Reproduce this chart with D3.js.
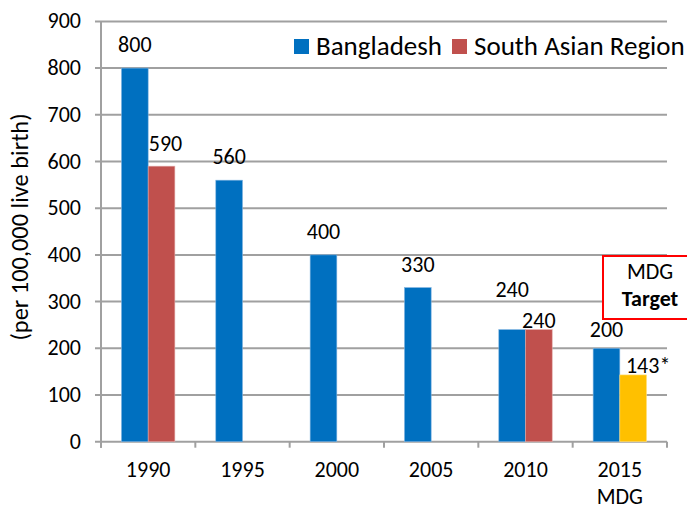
<!DOCTYPE html>
<html>
<head>
<meta charset="utf-8">
<script src="https://cdn.jsdelivr.net/npm/d3@7/dist/d3.min.js"></script>
<style>
  body { margin: 0; background: #fff; }
  text { font-family: Carlito, Calibri, Lato, sans-serif; fill: #000; }
</style>
</head>
<body>
<div id="cont"></div>
<script>
// data
var years = ["1990", "1995", "2000", "2005", "2010", "2015"];
var yearSub = ["", "", "", "", "", "MDG"];
var bangladesh = [800, 560, 400, 330, 240, 200];
var southAsia = [590, null, null, null, 240, null];
var mdgTarget = [null, null, null, null, null, 143];
var yTicks = [0, 100, 200, 300, 400, 500, 600, 700, 800, 900];

// label nudges (px above bar top, dx)
var blueLift = [16, 16, 16, 16, 33, 11];
var redLift = [15, 0, 0, 0, 2, 0];
var redDx = [4, 0, 0, 0, 0, 0];

var W = 687, H = 506;
var pLeft = 101, pRight = 667, pTop = 21.4, pBottom = 441.7;
var fs = "22px";

var svg = d3.select("#cont").append("svg")
    .attr("width", W)
    .attr("height", H);

var x = d3.scaleBand().domain(years).range([pLeft, pRight]).padding(0);
var y = d3.scaleLinear().domain([0, 900]).range([pBottom, pTop]);
var bw = x.bandwidth() * 0.283;

// gridlines
svg.append("g").selectAll("line").data(yTicks).enter().append("line")
    .attr("x1", pLeft - 6).attr("x2", pRight)
    .attr("y1", function (d) { return y(d); })
    .attr("y2", function (d) { return y(d); })
    .attr("stroke", "#a0a0a0")
    .attr("stroke-width", 2);

// y axis line
svg.append("line")
    .attr("x1", pLeft).attr("x2", pLeft)
    .attr("y1", pTop).attr("y2", pBottom + 6)
    .attr("stroke", "#a0a0a0").attr("stroke-width", 2);

// x category ticks
svg.append("g").selectAll("line").data(years.concat(["end"])).enter().append("line")
    .attr("x1", function (d, i) { return pLeft + i * x.bandwidth(); })
    .attr("x2", function (d, i) { return pLeft + i * x.bandwidth(); })
    .attr("y1", pBottom).attr("y2", pBottom + 6)
    .attr("stroke", "#a0a0a0").attr("stroke-width", 2);

// y tick labels
svg.append("g").selectAll("text").data(yTicks).enter().append("text")
    .attr("x", 81)
    .attr("y", function (d) { return y(d) + 7; })
    .attr("text-anchor", "end")
    .style("font-size", fs)
    .text(function (d) { return d; });

// y title
svg.append("text")
    .attr("transform", "translate(28,227) rotate(-90)")
    .attr("text-anchor", "middle")
    .style("font-size", "24.4px")
    .text("(per 100,000 live birth)");

// x labels
var xl = svg.append("g").selectAll("text").data(years).enter().append("text")
    .attr("x", function (d) { return x(d) + x.bandwidth() / 2; })
    .attr("y", 477)
    .attr("text-anchor", "middle")
    .style("font-size", fs);
xl.append("tspan").text(function (d) { return d; });
xl.append("tspan")
    .attr("x", function (d) { return x(d) + x.bandwidth() / 2; })
    .attr("dy", 27)
    .text(function (d, i) { return yearSub[i]; });

function cx(i) { return x(years[i]) + x.bandwidth() / 2; }

// bars - bangladesh
svg.append("g").selectAll("rect").data(bangladesh).enter().append("rect")
    .attr("x", function (d, i) { return cx(i) - bw; })
    .attr("y", function (d) { return y(d); })
    .attr("width", bw)
    .attr("height", function (d) { return pBottom - y(d); })
    .attr("fill", "#0070C0")
    .attr("stroke", "#7fb3e0").attr("stroke-width", 0.6);

// bars - south asia / target
var second = southAsia.map(function (v, i) {
    if (v != null) return { v: v, i: i, c: "#C0504D", s: "#e0a8a6", t: "" + v };
    if (mdgTarget[i] != null) return { v: mdgTarget[i], i: i, c: "#FFC000", s: "#ffe080", t: mdgTarget[i] + "*" };
    return null;
}).filter(function (d) { return d; });

svg.append("g").selectAll("rect").data(second).enter().append("rect")
    .attr("x", function (d) { return cx(d.i); })
    .attr("y", function (d) { return y(d.v); })
    .attr("width", bw)
    .attr("height", function (d) { return pBottom - y(d.v); })
    .attr("fill", function (d) { return d.c; })
    .attr("stroke", function (d) { return d.s; }).attr("stroke-width", 0.6);

// value labels
svg.append("g").selectAll("text").data(bangladesh).enter().append("text")
    .attr("x", function (d, i) { return cx(i) - bw / 2; })
    .attr("y", function (d, i) { return y(d) - blueLift[i]; })
    .attr("text-anchor", "middle")
    .style("font-size", fs)
    .text(function (d) { return d; });

svg.append("g").selectAll("text").data(second).enter().append("text")
    .attr("x", function (d) { return cx(d.i) + bw / 2 + (d.t.indexOf("*") > 0 ? 15 : redDx[d.i]); })
    .attr("y", function (d) { return y(d.v) - (d.t.indexOf("*") > 0 ? 2 : redLift[d.i]); })
    .attr("text-anchor", "middle")
    .style("font-size", fs)
    .text(function (d) { return d.t; });

// legend
var leg = [["Bangladesh", "#0070C0", 294], ["South Asian Region", "#C0504D", 452]];
var lg = svg.append("g").selectAll("g").data(leg).enter().append("g");
lg.append("rect")
    .attr("x", function (d) { return d[2]; })
    .attr("y", 39).attr("width", 15).attr("height", 15)
    .attr("fill", function (d) { return d[1]; });
lg.append("text")
    .attr("x", function (d) { return d[2] + 22; })
    .attr("y", 55)
    .style("font-size", "27px")
    .text(function (d) { return d[0]; });

// MDG target box
svg.append("rect")
    .attr("x", 603).attr("y", 256)
    .attr("width", 100).attr("height", 63)
    .attr("fill", "#fff")
    .attr("stroke", "#ff0000").attr("stroke-width", 2);
svg.append("text")
    .attr("x", 650).attr("y", 279)
    .attr("text-anchor", "middle")
    .style("font-size", fs)
    .text("MDG");
svg.append("text")
    .attr("x", 650).attr("y", 306)
    .attr("text-anchor", "middle")
    .style("font-size", fs)
    .style("font-weight", "bold")
    .text("Target");
</script>
</body>
</html>
